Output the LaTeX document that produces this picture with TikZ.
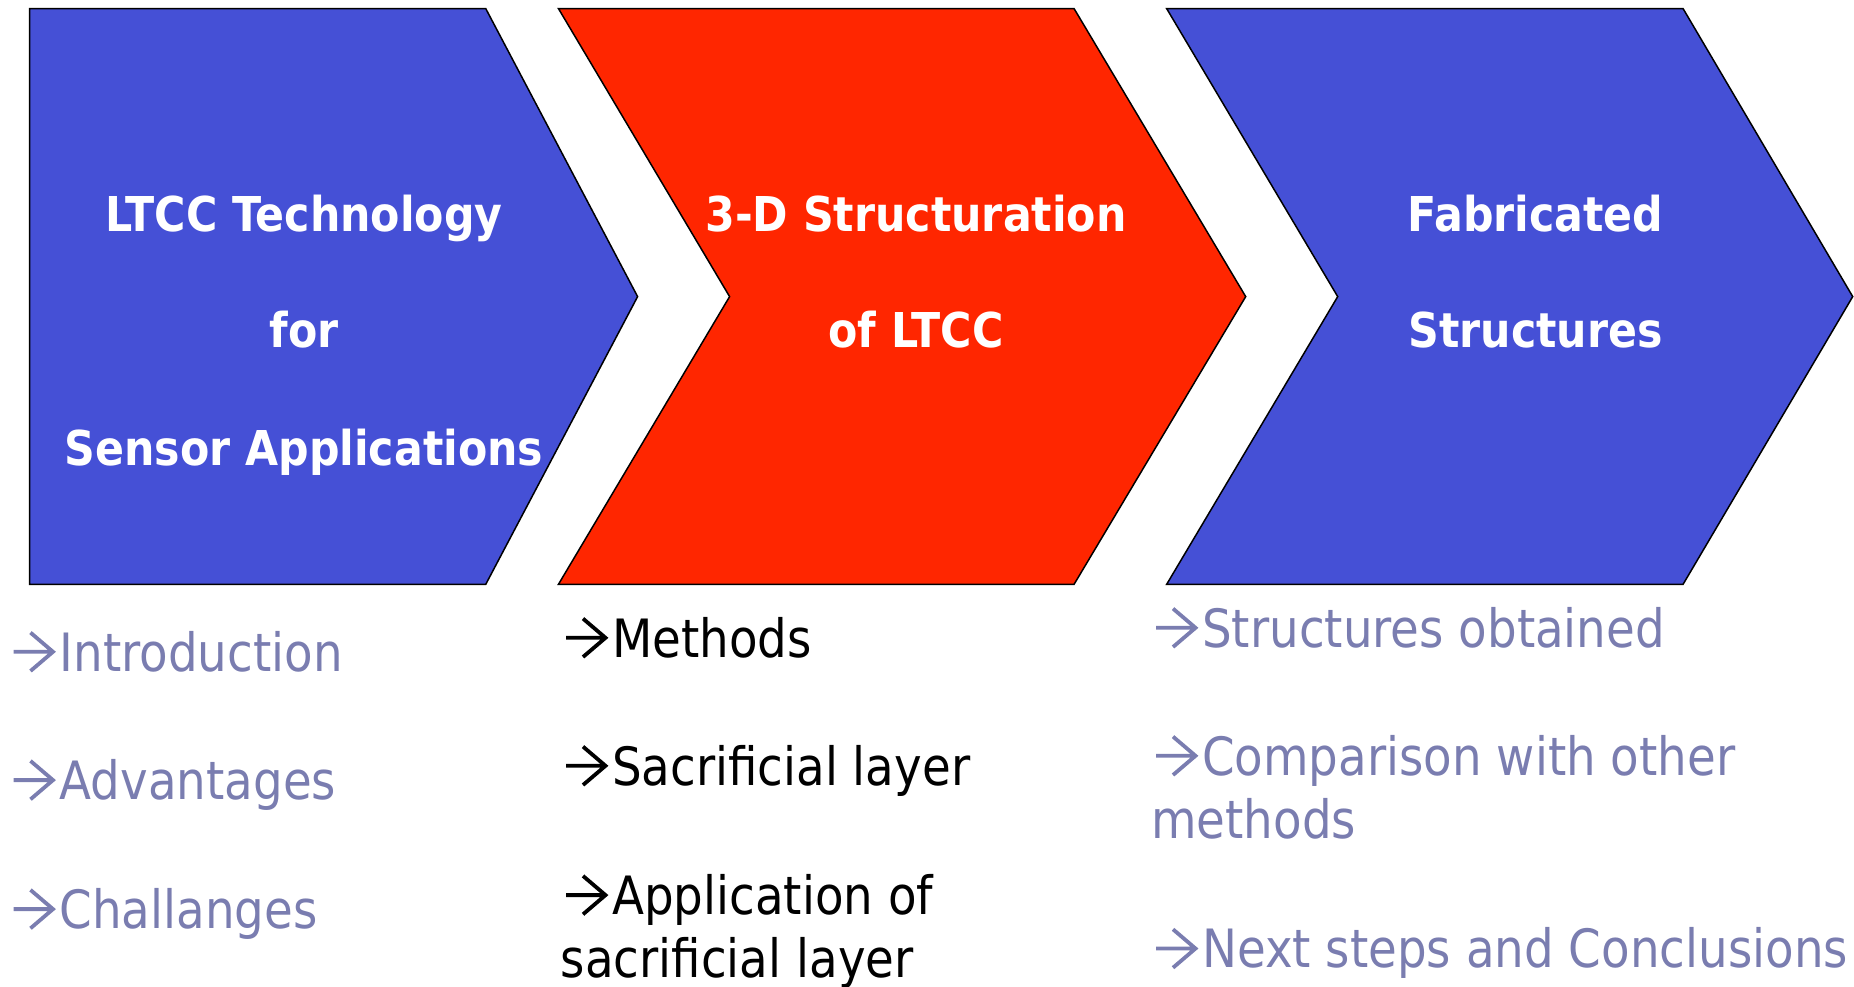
\documentclass[tikz,border=0pt]{standalone}
\usepackage{fontspec}
\setmainfont{DejaVu Sans}[FakeStretch=0.885]
\newfontfamily\headfont{DejaVu Sans}[FakeStretch=0.89]
\definecolor{chevblue}{HTML}{4550D6}
\definecolor{chevred}{HTML}{FF2600}
\definecolor{itemgray}{HTML}{7A7DB0}
\begin{document}
\begin{tikzpicture}[x=1pt,y=-1pt,
  chev/.style={draw=black, line width=1.5pt, line join=miter},
  headline/.style={text=white, font=\headfont\fontsize{48}{58}\selectfont\bfseries, anchor=base, inner sep=0pt},
  item/.style={font=\fontsize{52.8}{63}\selectfont, anchor=base west, inner sep=0pt},
  itemlight/.style={item, text=itemgray},
  itemdark/.style={item, text=black},
  bulletarrow/.style={line width=3.8pt, line join=miter, line cap=butt}
]
\useasboundingbox (0,0) rectangle (1854,986);

% three process chevrons
\filldraw[chev, fill=chevblue]
  (29.5,8.5) -- (485.7,8.5) -- (637.6,296.6) -- (485.7,584.4) -- (29.5,584.4) -- cycle;
\filldraw[chev, fill=chevred]
  (558.4,8.5) -- (1074,8.5) -- (1245.7,296.6) -- (1074,584.4) -- (558.4,584.4) -- (729.6,296.6) -- cycle;
\filldraw[chev, fill=chevblue]
  (1166.6,8.5) -- (1683,8.5) -- (1852.7,296.6) -- (1683,584.4) -- (1166.6,584.4) -- (1337.7,296.6) -- cycle;

% chevron headings
\node[headline] (h1a) at (304,231.5) {LTCC Technology};
\node[headline] (h1b) at (304,347.5) {for};
\node[headline] (h1c) at (304,465) {Sensor Applications};
\node[headline] (h2a) at (916,231.5) {3-D Structuration};
\node[headline] (h2b) at (916,347.5) {of LTCC};
\node[headline] (h3a) at (1535.5,231.5) {Fabricated};
\node[headline] (h3b) at (1535.5,347.5) {Structures};

% topics of the first part
\node[itemlight] (i1) at (59.5,671) {Introduction};
\node[itemlight] (i2) at (59.5,799.3) {Advantages};
\node[itemlight] (i3) at (59.5,928.3) {Challanges};

% topics of the second part
\node[itemdark] (m1) at (612,657) {Methods};
\node[itemdark] (m2) at (612,785) {Sacrificial layer};
\node[itemdark] (m3) at (612,914.3) {Application of};
\node[itemdark] (m3b) at (560.7,977.7) {sacrificial layer};

% topics of the third part
\node[itemlight] (s1) at (1202,647) {Structures obtained};
\node[itemlight] (s2) at (1202,775) {Comparison with other};
\node[itemlight] (s2b) at (1151,838.3) {methods};
\node[itemlight] (s3) at (1202,967.7) {Next steps and Conclusions};

% bullet arrows in front of each topic
\foreach \n/\c in {i1/itemgray, i2/itemgray, i3/itemgray,
                   m1/black, m2/black, m3/black,
                   s1/itemgray, s2/itemgray, s3/itemgray}
  \draw[bulletarrow, draw=\c, shift={(\n.base west)}]
    (-46,-19.2) -- (-6,-19.2)
    (-29,-38.4) -- (-6.5,-19.2) -- (-29,0);
\end{tikzpicture}
\end{document}
